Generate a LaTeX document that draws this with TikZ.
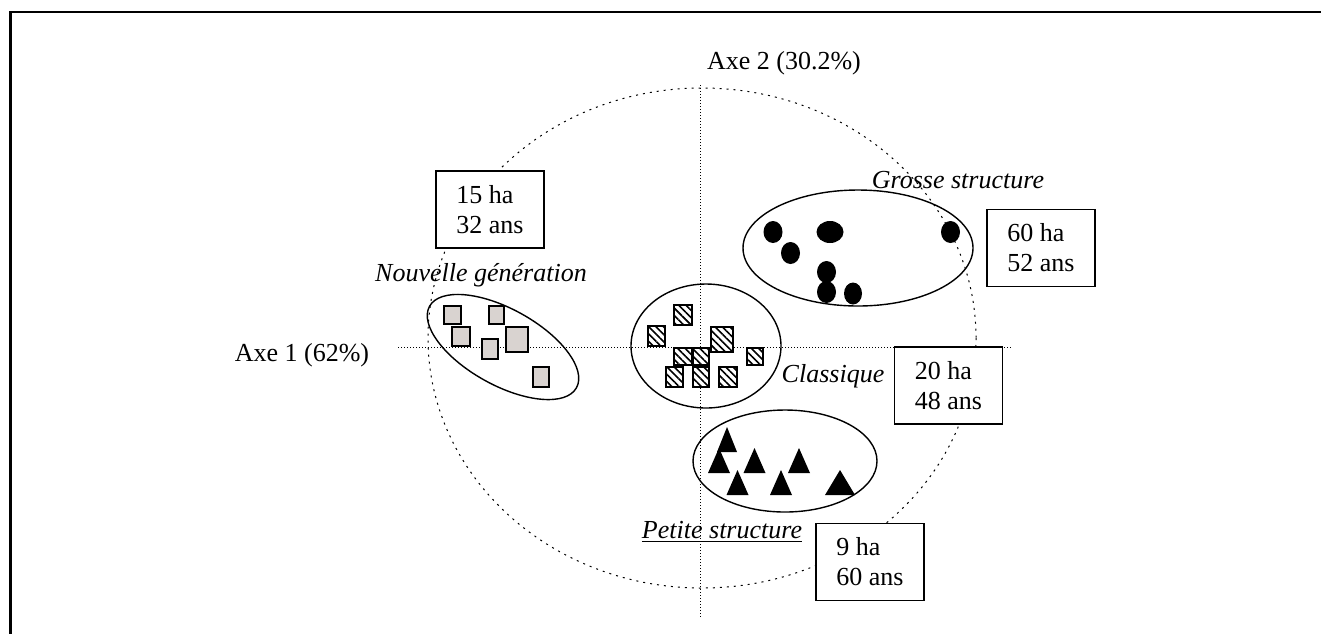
\documentclass[tikz,border=0pt]{standalone}
\usepackage{fontspec}
\setmainfont{Liberation Serif}
\usepackage{xcolor}
\usepackage{tikz}
\usetikzlibrary{shapes.geometric, patterns.meta, positioning}
\definecolor{nouvgris}{RGB}{217,211,208}

\begin{document}
\begin{tikzpicture}[x=0.5pt, y=-0.5pt,
        every node/.style={font=\fontsize{13}{15}\selectfont},
        infobox/.style={rectangle, draw, line width=0.8pt, fill=white, align=left, minimum width=54pt, minimum height=38.5pt, inner sep=0pt},
        grp/.style={ellipse, draw, line width=0.7pt, inner sep=0pt},
        lbl/.style={inner sep=1pt, font=\fontsize{13}{15}\selectfont\itshape},
        axis/.style={line width=0.5pt, dash pattern=on 0.5pt off 1pt},
        circ/.style={line width=0.5pt, dash pattern=on 1pt off 2.5pt},
        nsq/.style={draw, line width=0.7pt, fill=nouvgris},
        csq/.style={draw, line width=0.7pt, fill=white, postaction={pattern={Lines[angle=-45, distance=2.6pt, line width=0.8pt]}}},
        gdot/.style={fill=black},
        ptri/.style={fill=black}]

        \useasboundingbox (0,0) rectangle (1321,634);
        \draw[line width=1.3pt] (1321,12) -- (10.5,12) -- (10.5,634);

        % cercle des correlations et axes
        \draw[circ] (702,338) ellipse [x radius=274, y radius=250];
        \coordinate (ax1w) at (398,347);
        \coordinate (ax1e) at (1012,347);
        \coordinate (ax2n) at (700,85);
        \coordinate (ax2s) at (700,618);
        \draw[axis] (ax1w) -- (ax1e);
        \draw[axis] (ax2n) -- (ax2s);
        \node (axeun) at (302,355) {Axe 1 (62\%)};
        \node (axedeux) at (784,63) {Axe 2 (30.2\%)};

        % groupes
        \node (grpnouv) [grp, rotate=-29, minimum width=84pt, minimum height=38pt] at (503,347) {};
        \node (grpclass) [grp, minimum width=75pt, minimum height=62pt] at (706,346) {};
        \node (grpgrosse) [grp, minimum width=115pt, minimum height=58pt] at (858,248) {};
        \node (grppetite) [grp, minimum width=92pt, minimum height=51pt] at (785,461) {};

        \foreach \cx/\cy/\w/\h in {452.5/315/17/18, 496.5/315/15/18, 461/336.5/18/19, 490/349/16/20, 517/339.5/22/25, 541/377/16/20}
            \draw[nsq] (\cx-\w/2,\cy-\h/2) rectangle ++(\w,\h);
        \foreach \cx/\cy/\w/\h in {683/315/18/20, 656.5/336/17/20, 722/339.5/22/25, 683/356.5/18/17, 701/356.5/16/17, 755/356.5/16/17, 674.5/377/17/20, 701/377/16/20, 728/377/18/20}
            \draw[csq] (\cx-\w/2,\cy-\h/2) rectangle ++(\w,\h);
        \foreach \cx/\cy/\rx in {773/232/9.5, 830/232/13.5, 950.5/232/9.5, 790.5/253/9.5, 826.5/272/9.5, 826.5/292/9.5, 853/293.5/9}
            \fill[gdot] (\cx,\cy) ellipse [x radius=\rx, y radius=11];
        \foreach \cx/\by/\w in {727/452/20, 719/473/22, 754.5/473/22, 799/473/22, 737.5/495/22, 781/495/22, 840/495/30}
            \fill[ptri] (\cx,\by-25) -- (\cx-\w/2,\by) -- (\cx+\w/2,\by) -- cycle;

        % etiquettes
        \node (lblnouv) [lbl] at (481,275) {Nouvelle génération};
        \node (lblgrosse) [lbl] at (958,180) {Grosse structure};
        \node (lblclass) [lbl] at (833,376) {Classique};
        \node (lblpetite) [lbl] at (722,532) {\underline{Petite structure}};

        \node (boxnouv) [infobox] at (490,209.5) {15 ha\\32 ans};
        \node (boxgrosse) [infobox] at (1041,248) {60 ha\\52 ans};
        \node (boxclass) [infobox] at (948.5,385.5) {20 ha\\48 ans};
        \node (boxpetite) [infobox] at (870,562) {9 ha\\60 ans};
    \end{tikzpicture}
\end{document}
